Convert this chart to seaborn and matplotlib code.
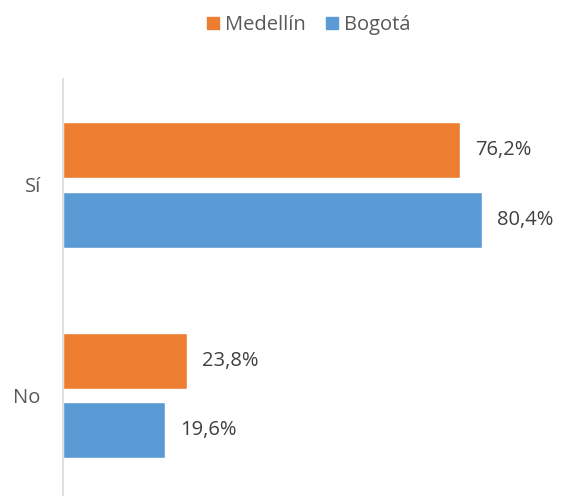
import seaborn as sns
import matplotlib.pyplot as plt
import pandas as pd

# Data
answers = ["Sí", "No"]
cities = ["Medellín", "Bogotá"]
medellin = [76.2, 23.8]
bogota = [80.4, 19.6]
colors = ["#ED7D31", "#5B9BD5"]

df = pd.DataFrame({
    "respuesta": answers * 2,
    "ciudad": [cities[0]] * 2 + [cities[1]] * 2,
    "valor": medellin + bogota,
})

sns.set_style("white")
plt.rcParams["font.family"] = ["Open Sans", "DejaVu Sans"]

fig = plt.figure(figsize=(5.61, 4.96), dpi=100)
ax = fig.add_axes([63 / 561, 0, (561 - 63) / 561, (496 - 79) / 496])

sns.barplot(data=df, y="respuesta", x="valor", hue="ciudad", order=answers,
            hue_order=cities, palette=colors, orient="h", width=0.663, gap=0.2,
            saturation=1, ax=ax, legend=False)

# data labels
for cont in ax.containers:
    labels = [f"{v:.1f}%".replace(".", ",") for v in cont.datavalues]
    ax.bar_label(cont, labels=labels, padding=11, fontsize=14.5, color="#404040")

ax.set_xlim(0, (561 - 63) / 5.21)
ax.set_ylim(1.477, -0.502)
ax.set_xlabel("")
ax.set_ylabel("")
ax.set_xticks([])
ax.tick_params(axis="y", length=0, pad=16, labelsize=14.5, labelcolor="#595959")
for side in ["top", "right", "bottom"]:
    ax.spines[side].set_visible(False)
ax.spines["left"].set_color("#D9D9D9")
ax.spines["left"].set_linewidth(1.2)

# legend on top
handles = [plt.Rectangle((0, 0), 1, 1, color=c) for c in colors]
fig.legend(handles, cities, loc="center", bbox_to_anchor=(309 / 561, 1 - 25 / 496),
           ncol=2, frameon=False, fontsize=14.5, labelcolor="#595959",
           handlelength=0.6, handleheight=0.6, handletextpad=0.3, columnspacing=1.0)

fig.savefig("out.png", dpi=100)
